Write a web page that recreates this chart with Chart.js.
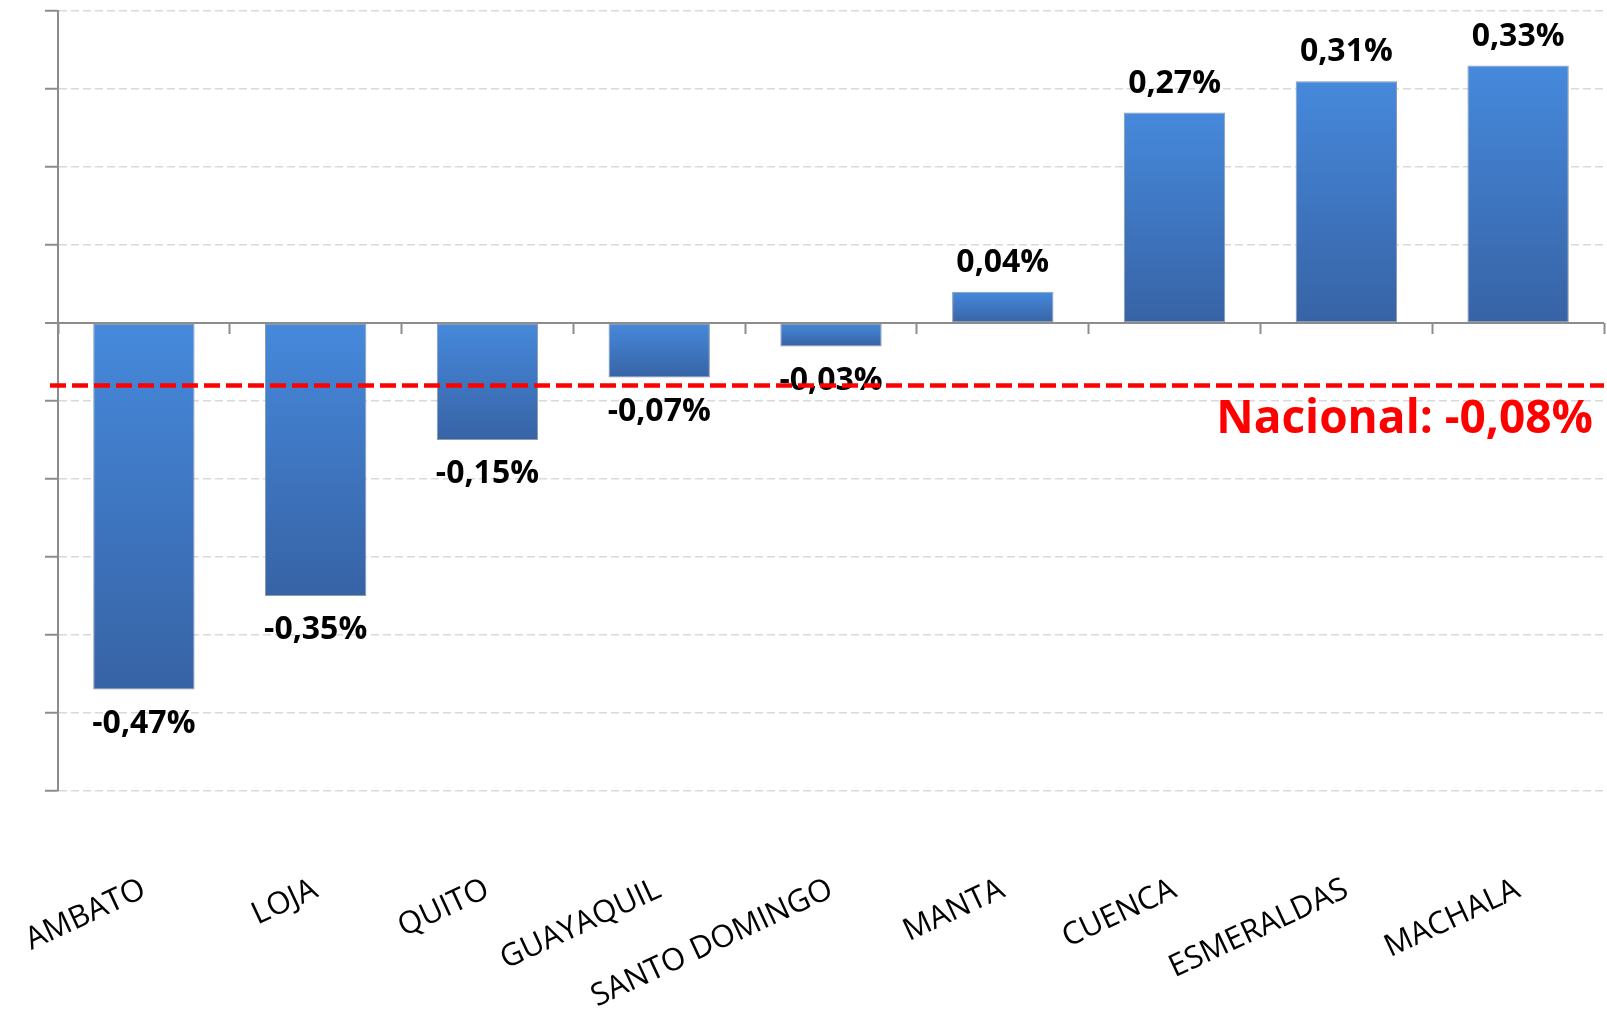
<!DOCTYPE html>
<html lang="es">
<head>
    <meta charset="UTF-8">
    <title>Variación por ciudad</title>
    <script src="https://cdn.jsdelivr.net/npm/chart.js"></script>
    <style>
        html, body { margin: 0; padding: 0; background: #ffffff; }
        #wrap { width: 1607px; height: 1010px; position: relative; }
    </style>
</head>
<body>
    <div id="wrap"><canvas id="ciudadesChart"></canvas></div>

    <script>
        // Datos
        const ciudades = ['AMBATO', 'LOJA', 'QUITO', 'GUAYAQUIL', 'SANTO DOMINGO', 'MANTA', 'CUENCA', 'ESMERALDAS', 'MACHALA'];
        const variacion = [-0.47, -0.35, -0.15, -0.07, -0.03, 0.04, 0.27, 0.31, 0.33];
        const nacional = -0.08;
        const ejeMin = -0.6;
        const ejeMax = 0.4;
        const ejePaso = 0.1;

        const fmt = v => v.toFixed(2).replace('.', ',') + '%';

        // degradado de cada barra, de arriba hacia abajo
        function colorBarra(context) {
            const chart = context.chart;
            const y = chart.scales.y;
            if (!y || context.raw === undefined) return '#4080d0';
            const p0 = y.getPixelForValue(0);
            const p1 = y.getPixelForValue(context.raw);
            const top = Math.min(p0, p1), bottom = Math.max(p0, p1);
            if (!isFinite(top) || bottom - top < 1) return '#4587da';
            const g = chart.ctx.createLinearGradient(0, top, 0, bottom);
            g.addColorStop(0, '#4689dc');
            g.addColorStop(1, '#3763a5');
            return g;
        }

        const etiquetasPlugin = {
            id: 'etiquetas',
            afterDatasetsDraw(chart) {
                const ctx = chart.ctx;
                const meta = chart.getDatasetMeta(0);
                ctx.save();
                ctx.font = 'bold 32px "Open Sans"';
                ctx.fillStyle = '#000000';
                ctx.textAlign = 'center';
                ctx.textBaseline = 'middle';
                meta.data.forEach((bar, i) => {
                    const v = variacion[i];
                    const y = v >= 0 ? bar.y - 29 : bar.y + 34;
                    ctx.fillText(fmt(v), bar.x, y);
                });
                ctx.restore();
            }
        };

        const nacionalPlugin = {
            id: 'nacional',
            afterDatasetsDraw(chart) {
                const ctx = chart.ctx;
                const area = chart.chartArea;
                const y = chart.scales.y.getPixelForValue(nacional);
                ctx.save();
                ctx.strokeStyle = '#ff0000';
                ctx.lineWidth = 4.5;
                ctx.setLineDash([16, 6]);
                ctx.beginPath();
                ctx.moveTo(area.left - 8, y);
                ctx.lineTo(area.right, y);
                ctx.stroke();
                ctx.setLineDash([]);
                ctx.font = 'bold 46px "Open Sans"';
                ctx.fillStyle = '#ff0000';
                ctx.textAlign = 'right';
                ctx.textBaseline = 'alphabetic';
                ctx.fillText('Nacional: ' + fmt(nacional), area.right - 11, y + 48);
                ctx.restore();
            }
        };

        new Chart(document.getElementById('ciudadesChart'), {
            type: 'bar',
            data: {
                labels: ciudades,
                datasets: [{
                    data: variacion,
                    backgroundColor: colorBarra,
                    borderColor: '#8d99ad',
                    borderWidth: 1,
                    borderSkipped: false,
                    categoryPercentage: 1,
                    barPercentage: 0.59
                }]
            },
            options: {
                responsive: true,
                maintainAspectRatio: false,
                animation: false,
                layout: { padding: { left: 45, top: 11, right: 3, bottom: 0 } },
                plugins: {
                    legend: { display: false },
                    tooltip: { enabled: false }
                },
                scales: {
                    y: {
                        min: ejeMin,
                        max: ejeMax,
                        ticks: { display: false, stepSize: ejePaso },
                        grid: {
                            color: c => Math.abs(c.tick.value) < 1e-9 ? '#8c8c8c' : '#d9d9d9',
                            lineWidth: c => Math.abs(c.tick.value) < 1e-9 ? 2 : 1.5,
                            drawTicks: true,
                            tickLength: 13,
                            tickColor: '#8c8c8c',
                            tickWidth: 2,
                            tickBorderDash: []
                        },
                        border: {
                            display: true,
                            color: '#8c8c8c',
                            width: 2,
                            dash: c => (c.tick && Math.abs(c.tick.value) < 1e-9) ? [] : [8, 4]
                        }
                    },
                    x: {
                        type: 'category',
                        position: { y: 0 },
                        offset: true,
                        ticks: { display: false },
                        grid: {
                            offset: true,
                            drawOnChartArea: false,
                            drawTicks: true,
                            tickLength: 11,
                            tickColor: '#8c8c8c',
                            tickWidth: 2
                        },
                        border: { display: false }
                    },
                    x2: {
                        type: 'category',
                        position: 'bottom',
                        labels: ciudades,
                        offset: true,
                        grid: { display: false, drawTicks: false },
                        border: { display: false },
                        ticks: {
                            autoSkip: false,
                            minRotation: 25,
                            maxRotation: 25,
                            padding: 80,
                            color: '#000000',
                            font: { family: '"Open Sans"', size: 31 }
                        },
                        afterFit(scale) {
                            scale.height = 219;
                            scale.paddingLeft = 0;
                            scale.paddingRight = 0;
                        }
                    }
                }
            },
            plugins: [etiquetasPlugin, nacionalPlugin]
        });
    </script>
</body>
</html>
